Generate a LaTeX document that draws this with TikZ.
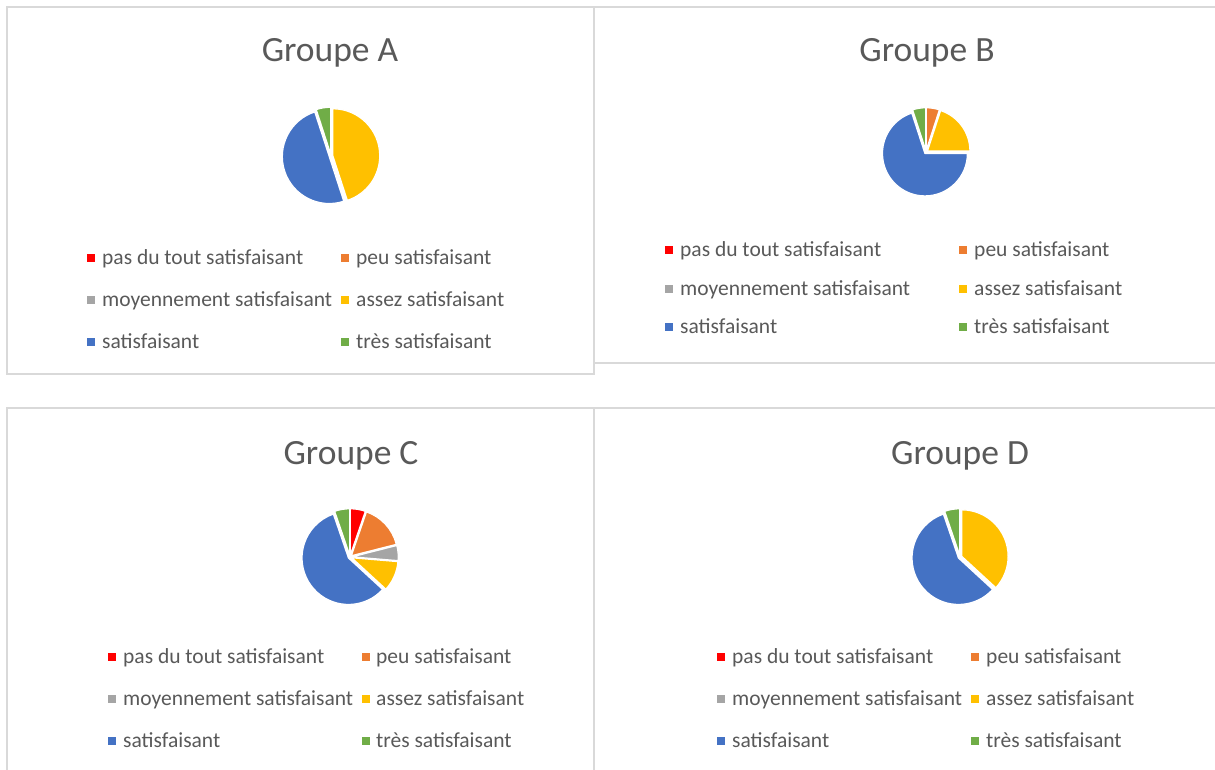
\documentclass[tikz,border=0pt]{standalone}
\usepackage{fontspec}
\setmainfont{Carlito}
\usetikzlibrary{calc}
\definecolor{cRed}{HTML}{FF0000}
\definecolor{cOrange}{HTML}{ED7D31}
\definecolor{cGray}{HTML}{A5A5A5}
\definecolor{cYellow}{HTML}{FFC000}
\definecolor{cBlue}{HTML}{4472C4}
\definecolor{cGreen}{HTML}{70AD47}
\definecolor{cText}{HTML}{595959}
\definecolor{cFrame}{HTML}{D9D9D9}
\newcommand\myslice[5]{% centre, radius, start, end (clockwise from top, degrees), colour
  \pgfmathsetmacro\myA{#3-90}\pgfmathsetmacro\myB{#4-90}\pgfmathsetmacro\myM{(\myA+\myB)/2}
  \filldraw[fill=#5,draw=white,line width=1.3pt,line join=round,shift={(#1)},shift={(\myM:1.8)}]
    (0,0) -- (\myA:#2) arc[start angle=\myA,end angle=\myB,radius=#2] -- cycle;
}
\tikzset{
  frame/.style={draw=cFrame,line width=1.1pt},
  title/.style={anchor=base,inner sep=0pt,text=cText,font=\fontsize{35.5}{40}\selectfont},
  legtext/.style={anchor=base west,inner sep=0pt,text=cText,font=\fontsize{21.5}{24}\selectfont},
  legmark/.style={inner sep=0pt,minimum size=8pt,fill=#1},
}
\begin{document}
\begin{tikzpicture}[x=1pt,y=-1pt]
\useasboundingbox (0,0) rectangle (1215,769);
\clip (0,0) rectangle (1215,769);
\fill[white] (0,0) rectangle (1215,769);
% frames
\draw[frame] (7,7) rectangle (594,374);
\draw[frame] (594,7) rectangle (1225,363);
\draw[frame] (7,408) rectangle (594,780);
\draw[frame] (594,408) rectangle (1225,780);

% ---------- Groupe A ----------
\node[title] (tA) at (330,61) {Groupe A};
\coordinate (pA) at (331,156);
\myslice{pA}{47}{0}{162}{cYellow}
\myslice{pA}{47}{162}{342}{cBlue}
\myslice{pA}{47}{342}{360}{cGreen}
\node[legmark=cRed] (mA1) at (91,258) {};
\node[legtext] (lA1) at (102,264) {pas du tout satisfaisant};
\node[legmark=cOrange] (mA2) at (345,258) {};
\node[legtext] (lA2) at (356,264) {peu satisfaisant};
\node[legmark=cGray] (mA3) at (91,300) {};
\node[legtext] (lA3) at (102,306) {moyennement satisfaisant};
\node[legmark=cYellow] (mA4) at (345,300) {};
\node[legtext] (lA4) at (356,306) {assez satisfaisant};
\node[legmark=cBlue] (mA5) at (91,342) {};
\node[legtext] (lA5) at (102,348) {satisfaisant};
\node[legmark=cGreen] (mA6) at (345,342) {};
\node[legtext] (lA6) at (356,348) {très satisfaisant};

% ---------- Groupe B ----------
\node[title] (tB) at (927,61) {Groupe B};
\coordinate (pB) at (926,152);
\myslice{pB}{42.5}{0}{18}{cOrange}
\myslice{pB}{42.5}{18}{90}{cYellow}
\myslice{pB}{42.5}{90}{342}{cBlue}
\myslice{pB}{42.5}{342}{360}{cGreen}
\node[legmark=cRed] (mB1) at (669,250) {};
\node[legtext] (lB1) at (680,256) {pas du tout satisfaisant};
\node[legmark=cOrange] (mB2) at (963,250) {};
\node[legtext] (lB2) at (974,256) {peu satisfaisant};
\node[legmark=cGray] (mB3) at (669,289) {};
\node[legtext] (lB3) at (680,295) {moyennement satisfaisant};
\node[legmark=cYellow] (mB4) at (963,289) {};
\node[legtext] (lB4) at (974,295) {assez satisfaisant};
\node[legmark=cBlue] (mB5) at (669,327) {};
\node[legtext] (lB5) at (680,333) {satisfaisant};
\node[legmark=cGreen] (mB6) at (963,327) {};
\node[legtext] (lB6) at (974,333) {très satisfaisant};

% ---------- Groupe C ----------
\node[title] (tC) at (351,464) {Groupe C};
\coordinate (pC) at (350,557);
\myslice{pC}{46.5}{0}{18.95}{cRed}
\myslice{pC}{46.5}{18.95}{75.79}{cOrange}
\myslice{pC}{46.5}{75.79}{94.74}{cGray}
\myslice{pC}{46.5}{94.74}{132.63}{cYellow}
\myslice{pC}{46.5}{132.63}{341.05}{cBlue}
\myslice{pC}{46.5}{341.05}{360}{cGreen}
\node[legmark=cRed] (mC1) at (112,657) {};
\node[legtext] (lC1) at (123,663) {pas du tout satisfaisant};
\node[legmark=cOrange] (mC2) at (366,657) {};
\node[legtext] (lC2) at (376,663) {peu satisfaisant};
\node[legmark=cGray] (mC3) at (112,699) {};
\node[legtext] (lC3) at (123,705) {moyennement satisfaisant};
\node[legmark=cYellow] (mC4) at (366,699) {};
\node[legtext] (lC4) at (376,705) {assez satisfaisant};
\node[legmark=cBlue] (mC5) at (112,741) {};
\node[legtext] (lC5) at (123,747) {satisfaisant};
\node[legmark=cGreen] (mC6) at (366,741) {};
\node[legtext] (lC6) at (376,747) {très satisfaisant};

% ---------- Groupe D ----------
\node[title] (tD) at (960,464) {Groupe D};
\coordinate (pD) at (960,557);
\myslice{pD}{46.5}{0}{132.63}{cYellow}
\myslice{pD}{46.5}{132.63}{341.05}{cBlue}
\myslice{pD}{46.5}{341.05}{360}{cGreen}
\node[legmark=cRed] (mD1) at (721,657) {};
\node[legtext] (lD1) at (732,663) {pas du tout satisfaisant};
\node[legmark=cOrange] (mD2) at (975,657) {};
\node[legtext] (lD2) at (986,663) {peu satisfaisant};
\node[legmark=cGray] (mD3) at (721,699) {};
\node[legtext] (lD3) at (732,705) {moyennement satisfaisant};
\node[legmark=cYellow] (mD4) at (975,699) {};
\node[legtext] (lD4) at (986,705) {assez satisfaisant};
\node[legmark=cBlue] (mD5) at (721,741) {};
\node[legtext] (lD5) at (732,747) {satisfaisant};
\node[legmark=cGreen] (mD6) at (975,741) {};
\node[legtext] (lD6) at (986,747) {très satisfaisant};
\end{tikzpicture}
\end{document}
